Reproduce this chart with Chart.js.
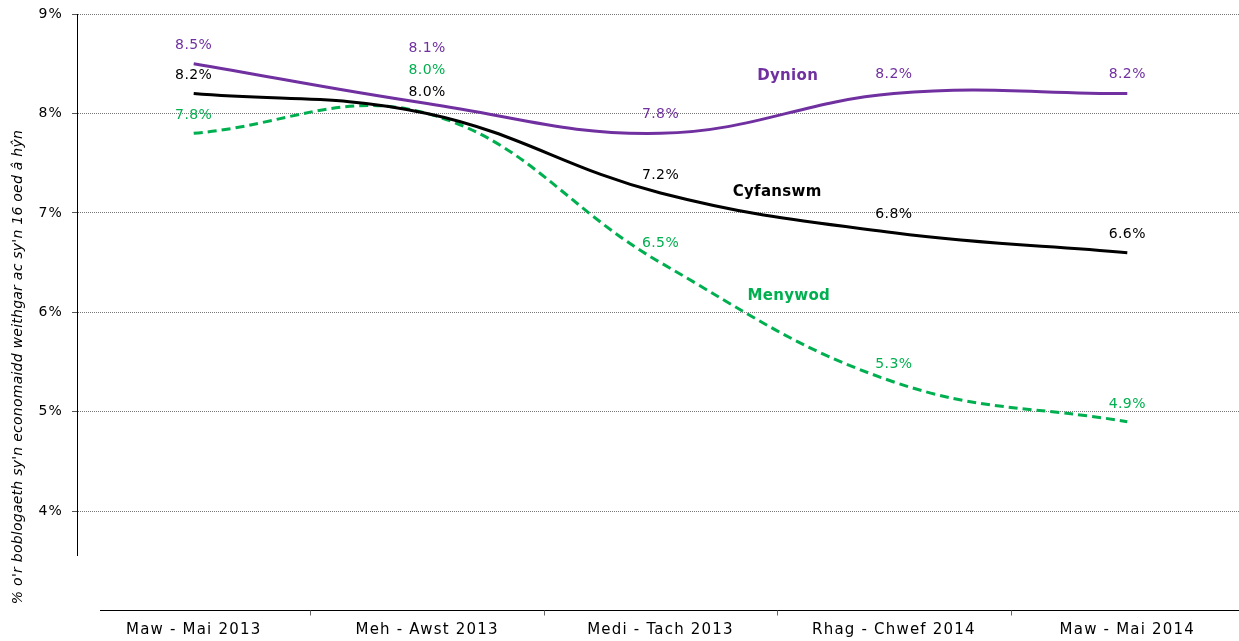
<!DOCTYPE html>
<html>
<head>
<meta charset="utf-8">
<script src="https://cdn.jsdelivr.net/npm/chart.js@4"></script>
<style>
  html, body { margin: 0; padding: 0; background: #fff; overflow: hidden; }
  #chart { display: block; }
</style>
</head>
<body>
<!-- plot area runs a few px past the right edge in the original, so the canvas is a bit wider than the window -->
<canvas id="chart" width="1244" height="641"></canvas>
<script>
// data
const categories = ["Maw - Mai 2013", "Meh - Awst 2013", "Medi - Tach 2013", "Rhag - Chwef 2014", "Maw - Mai 2014"];
const dynion = [8.5, 8.1, 7.8, 8.2, 8.2];
const cyfanswm = [8.2, 8.0, 7.2, 6.8, 6.6];
const menywod = [7.8, 8.0, 6.5, 5.3, 4.9];
const yTicks = [4, 5, 6, 7, 8, 9];
const yTitle = "% o'r boblogaeth sy'n economaidd weithgar ac sy'n 16 oed â hŷn";

const PURPLE = "#7030A0";
const GREEN = "#00B050";
const FONT = '"DejaVu Sans", Verdana, sans-serif';

// label nudges (px, relative to point) and series name spots
const labelDy = {
  dynion: [-18, -55, -19, -19, -19],
  cyfanswm: [-18, -21, -18, -18, -18],
  menywod: [-18, -43, -19, -18, -17]
};
const seriesNames = [
  { text: "Dynion", color: PURPLE, at: [2.545, 8.38] },
  { text: "Cyfanswm", color: "#000", at: [2.5, 7.21] },
  { text: "Menywod", color: GREEN, at: [2.55, 6.16] }
];

const overlay = {
  id: "overlay",
  beforeDraw(chart) {
    // axis tick labels in the original are spaced out a bit
    chart.ctx.letterSpacing = "1.2px";
  },
  afterDatasetsDraw(chart) {
    const ctx = chart.ctx;
    const xs = chart.scales.x, ys = chart.scales.y;
    ctx.save();
    ctx.textAlign = "center";
    ctx.textBaseline = "middle";

    // value labels
    ctx.font = "14px " + FONT;
    ctx.letterSpacing = "0.4px";
    chart.data.datasets.forEach((ds, i) => {
      const meta = chart.getDatasetMeta(i);
      ctx.fillStyle = ds.borderColor;
      meta.data.forEach((pt, j) => {
        ctx.fillText(ds.data[j].toFixed(1) + "%", pt.x, pt.y + ds.labelDy[j]);
      });
    });

    // series names
    ctx.font = "bold 15px " + FONT;
    ctx.letterSpacing = "0.3px";
    seriesNames.forEach(s => {
      ctx.fillStyle = s.color;
      ctx.fillText(s.text, xs.getPixelForValue(s.at[0]), ys.getPixelForValue(s.at[1]));
    });

    // detached category axis
    const ay = 610.5;
    ctx.strokeStyle = "#000";
    ctx.lineWidth = 1;
    ctx.beginPath();
    ctx.moveTo(100, ay);
    ctx.lineTo(chart.width, ay);
    ctx.stroke();
    ctx.strokeStyle = "#666";
    for (let j = 1; j < categories.length; j++) {
      const bx = Math.round((xs.getPixelForValue(j - 1) + xs.getPixelForValue(j)) / 2) + 0.5;
      ctx.beginPath();
      ctx.moveTo(bx, ay);
      ctx.lineTo(bx, ay + 5);
      ctx.stroke();
    }

    // y title
    ctx.translate(18, 367);
    ctx.rotate(-Math.PI / 2);
    ctx.font = "italic 14px " + FONT;
    ctx.letterSpacing = "0.25px";
    ctx.fillStyle = "#000";
    ctx.fillText(yTitle, 0, 0);
    ctx.restore();
  }
};

new Chart(document.getElementById("chart"), {
  type: "line",
  data: {
    labels: categories,
    datasets: [
      {
        label: "Dynion",
        data: dynion,
        borderColor: PURPLE,
        borderWidth: 3,
        tension: 0.4,
        pointRadius: 0,
        labelDy: labelDy.dynion
      },
      {
        label: "Cyfanswm",
        data: cyfanswm,
        borderColor: "#000",
        borderWidth: 3,
        tension: 0.4,
        pointRadius: 0,
        labelDy: labelDy.cyfanswm
      },
      {
        label: "Menywod",
        data: menywod,
        borderColor: GREEN,
        borderWidth: 3,
        borderDash: [9, 5],
        tension: 0.4,
        pointRadius: 0,
        labelDy: labelDy.menywod
      }
    ]
  },
  options: {
    responsive: false,
    animation: false,
    devicePixelRatio: 1,
    layout: { padding: { top: 14, right: 0, bottom: 0, left: 0 } },
    plugins: {
      legend: { display: false },
      tooltip: { enabled: false }
    },
    scales: {
      x: {
        offset: true,
        grid: { display: false, drawTicks: false },
        border: { display: false },
        ticks: {
          padding: 66,
          color: "#000",
          font: { family: FONT, size: 15 },
          maxRotation: 0,
          autoSkip: false
        },
        afterFit(scale) {
          scale.height = 86;
          scale.paddingLeft = 0;
          scale.paddingRight = 0;
        }
      },
      y: {
        min: 3.56,
        max: 9,
        afterBuildTicks(scale) { scale.ticks = yTicks.map(v => ({ value: v })); },
        grid: {
          color: "#777",
          lineWidth: 1,
          tickLength: 5,
          tickColor: "#555"
        },
        border: { display: true, color: "#000", width: 1, dash: [1, 1] },
        ticks: {
          padding: 9,
          color: "#000",
          font: { family: FONT, size: 14 },
          callback: v => v + "%"
        },
        afterFit(scale) {
          scale.width = 77;
          scale.paddingTop = 0;
          scale.paddingBottom = 0;
        }
      }
    }
  },
  plugins: [overlay]
});
</script>
</body>
</html>
